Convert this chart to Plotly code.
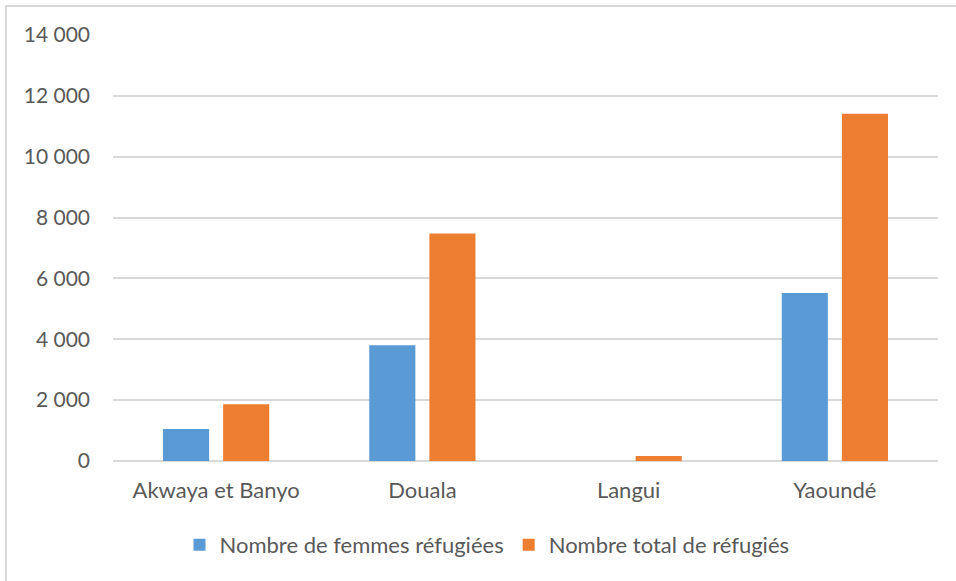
import plotly.graph_objects as go

categories = ["Akwaya et Banyo", "Douala", "Langui", "Yaoundé"]
femmes = [1050, 3800, 0, 5520]
total = [1865, 7480, 165, 11415]
series_names = ["Nombre de femmes réfugiées", "Nombre total de réfugiés"]
y_ticks = [0, 2000, 4000, 6000, 8000, 10000, 12000, 14000]

FONT = "Lato"
TXT = "#595959"

fig = go.Figure()
fig.add_trace(go.Bar(x=categories, y=femmes, name=series_names[0],
                     marker=dict(color="#5b9bd5", line=dict(width=0))))
fig.add_trace(go.Bar(x=categories, y=total, name=series_names[1],
                     marker=dict(color="#ed7d31", line=dict(width=0))))

L, R, T, B = 113, 18, 35, 120
W, H = 956, 581
pw = W - L - R
ph = H - T - B
bx = (6 - L) / pw
by = (H - B - 6) / ph

fig.update_layout(
    width=W, height=H,
    margin=dict(l=L, r=R, t=T, b=B, pad=0),
    paper_bgcolor="white", plot_bgcolor="white",
    barmode="group", bargap=0.417, bargroupgap=0.233,
    separators=", ",
    font=dict(family=FONT, size=21, color=TXT),
    showlegend=True,
    legend=dict(orientation="h", x=(487 - L) / pw, xanchor="center",
                y=(H - B - 545) / ph, yanchor="middle",
                font=dict(family=FONT, size=22, color=TXT),
                itemwidth=30, traceorder="normal"),
    xaxis=dict(showgrid=False, showline=False, zeroline=False, ticks="",
               ticklabelstandoff=14,
               tickfont=dict(family=FONT, size=22, color=TXT)),
    yaxis=dict(range=[0, 14000], tickvals=y_ticks, tickformat=",d",
               showgrid=True, gridcolor="#d9d9d9", gridwidth=1.5,
               zeroline=True, zerolinecolor="#d9d9d9", zerolinewidth=1.5,
               showline=False, ticks="", ticklabelstandoff=22,
               tickfont=dict(family=FONT, size=21, color=TXT)),
    shapes=[dict(type="path", xref="paper", yref="paper",
                 path=f"M {bx} -1 L {bx} {by} L 2 {by}",
                 line=dict(color="#d9d9d9", width=2))],
)

fig.write_html("out.html",
               config={"displayModeBar": False},
               post_script="document.body.style.margin='0';document.body.style.overflow='hidden';")
